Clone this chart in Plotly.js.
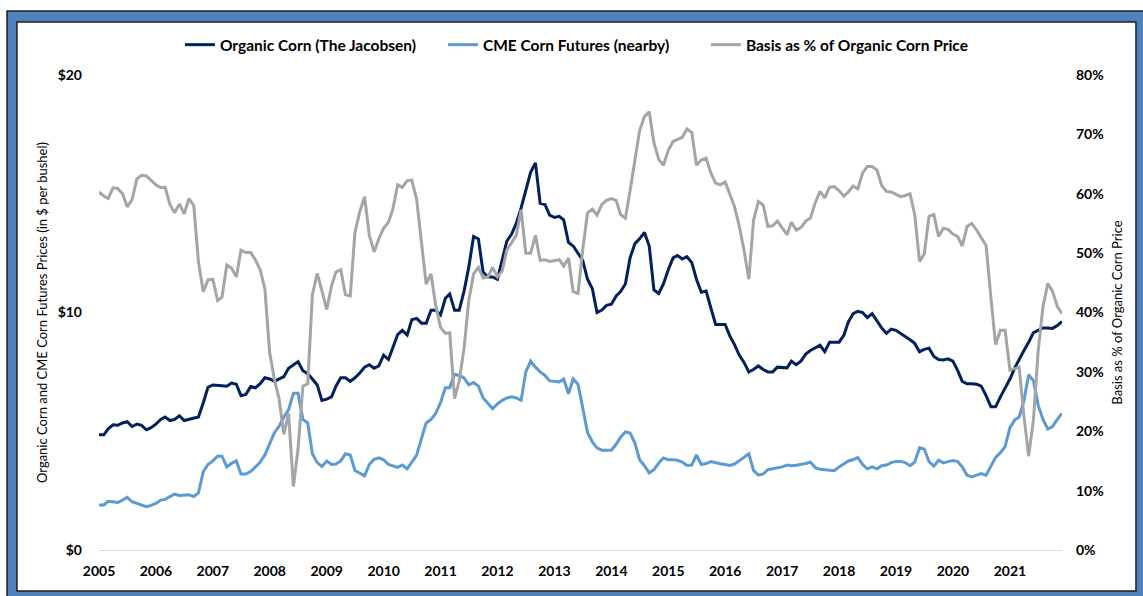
<!DOCTYPE html>
<html>
<head>
<meta charset="utf-8">
<script src="https://cdn.plot.ly/plotly-3.0.1.min.js"></script>
<style>html,body{margin:0;padding:0;background:#fff;}#chart{width:1143px;height:596px;}</style>
</head>
<body>
<div id="chart"></div>
<script>
// Monthly values, Jan 2005 - Dec 2021
const years = [2005,2006,2007,2008,2009,2010,2011,2012,2013,2014,2015,2016,2017,2018,2019,2020,2021];
const tickLabels = years.map(String);

const organicCorn = [
 4.85,4.85,5.1,5.27,5.25,5.35,5.4,5.2,5.3,5.25,5.06,5.15,
 5.3,5.5,5.6,5.45,5.5,5.65,5.45,5.5,5.55,5.6,6.2,6.85,
 6.95,6.95,6.92,6.9,7.03,6.98,6.5,6.55,6.88,6.83,7.0,7.25,
 7.2,7.1,7.2,7.3,7.65,7.78,7.93,7.55,7.42,7.2,6.95,6.3,
 6.35,6.45,6.9,7.25,7.25,7.1,7.25,7.45,7.7,7.8,7.65,7.75,
 8.2,8.02,8.5,9.07,9.25,9.05,9.7,9.75,9.55,9.55,10.1,10.1,
 9.9,10.6,10.78,10.1,10.1,10.9,11.9,13.2,13.1,11.7,11.5,11.5,
 11.4,12.2,13.0,13.3,13.75,14.4,15.1,15.9,16.3,14.6,14.55,14.1,
 14.0,14.05,13.9,12.95,12.8,12.5,12.2,11.4,11.0,10.0,10.1,10.3,
 10.35,10.7,10.88,11.2,12.3,12.9,13.1,13.37,12.8,10.95,10.8,11.2,
 11.8,12.3,12.4,12.25,12.35,12.1,11.4,10.85,10.9,10.2,9.5,9.5,
 9.5,9.0,8.65,8.2,7.9,7.5,7.6,7.75,7.6,7.5,7.5,7.7,
 7.7,7.67,7.95,7.8,7.95,8.25,8.4,8.5,8.62,8.35,8.75,8.75,
 8.75,9.05,9.6,9.95,10.05,10.0,9.78,9.95,9.65,9.35,9.12,9.3,
 9.25,9.12,8.98,8.85,8.7,8.35,8.45,8.5,8.15,8.02,8.0,8.05,
 7.95,7.55,7.1,7.0,7.0,6.98,6.9,6.5,6.03,6.03,6.45,6.8,
 7.2,7.67,8.05,8.4,8.75,9.15,9.25,9.35,9.35,9.33,9.45,9.62
];

const cmeFutures = [
 1.9,1.9,2.05,2.02,2.0,2.1,2.22,2.03,1.95,1.9,1.82,1.88,
 1.96,2.1,2.13,2.25,2.35,2.3,2.3,2.33,2.25,2.4,3.3,3.6,
 3.75,3.95,3.95,3.5,3.65,3.75,3.2,3.2,3.3,3.5,3.7,4.0,
 4.5,4.95,5.2,5.6,5.9,6.6,6.6,5.5,5.35,4.05,3.68,3.52,
 3.75,3.6,3.62,3.75,4.05,4.0,3.35,3.22,3.12,3.6,3.82,3.88,
 3.8,3.6,3.55,3.48,3.58,3.42,3.7,4.0,4.7,5.35,5.5,5.75,
 6.2,6.83,6.83,7.4,7.35,7.25,6.95,7.05,6.9,6.4,6.18,5.95,
 6.15,6.3,6.4,6.45,6.4,6.3,7.5,7.95,7.7,7.5,7.35,7.12,
 7.1,7.08,7.2,6.58,7.2,6.98,6.0,4.95,4.55,4.3,4.2,4.2,
 4.2,4.45,4.75,4.97,4.92,4.5,3.8,3.55,3.25,3.38,3.66,3.87,
 3.8,3.8,3.78,3.7,3.56,3.58,4.0,3.6,3.64,3.72,3.66,3.63,
 3.6,3.56,3.62,3.75,3.9,4.05,3.35,3.15,3.2,3.38,3.42,3.45,
 3.5,3.58,3.55,3.57,3.6,3.64,3.7,3.47,3.4,3.37,3.35,3.34,
 3.5,3.65,3.75,3.8,3.9,3.6,3.42,3.5,3.42,3.55,3.58,3.68,
 3.73,3.73,3.68,3.55,3.7,4.3,4.25,3.72,3.53,3.78,3.67,3.72,
 3.77,3.72,3.5,3.15,3.08,3.15,3.22,3.15,3.5,3.9,4.1,4.35,
 5.15,5.48,5.6,6.3,7.38,7.12,6.1,5.5,5.1,5.2,5.5,5.75
];

const basisPct = [
 60.3,59.6,59.2,61.0,60.9,60.0,57.8,59.0,62.5,63.1,63.0,62.2,
 61.5,61.0,61.1,58.2,56.8,58.3,56.6,59.2,58.0,48.5,43.5,45.5,
 45.6,42.0,42.6,48.0,47.5,46.0,50.5,50.1,50.1,48.9,47.2,44.0,
 33.2,28.6,25.5,19.5,23.0,10.7,17.0,27.6,28.0,43.0,46.6,43.7,
 40.5,44.5,46.8,47.2,43.0,42.8,53.5,57.0,59.5,53.0,50.2,52.4,
 54.2,55.2,57.4,61.5,61.1,62.2,62.3,59.0,51.5,44.8,46.5,41.2,
 37.5,36.5,36.6,25.5,28.5,34.0,42.0,46.5,47.6,45.8,46.0,47.6,
 46.0,47.0,50.5,51.8,53.0,57.3,50.0,50.0,53.0,48.8,48.9,48.6,
 48.8,48.9,47.8,49.2,43.5,43.2,50.5,56.8,57.4,56.4,58.2,58.9,
 59.2,58.9,56.5,55.9,60.5,65.8,70.6,73.0,73.8,68.6,65.8,64.8,
 67.3,68.8,69.2,69.5,70.9,70.3,64.8,65.7,66.0,63.5,61.8,61.5,
 62.0,60.0,57.8,54.5,50.5,45.6,55.5,58.7,58.1,54.5,54.6,55.4,
 54.2,53.1,55.2,53.9,54.3,55.4,55.9,58.5,60.4,59.3,61.1,61.2,
 60.5,59.6,60.3,61.3,60.8,63.5,64.6,64.6,64.0,61.4,60.4,60.3,
 59.9,59.5,59.7,60.0,56.5,48.6,49.8,56.2,56.5,52.8,54.2,54.0,
 53.2,52.8,51.2,54.5,55.0,53.9,52.6,51.3,42.5,34.6,37.0,37.0,
 30.3,30.5,30.8,22.5,15.8,22.0,33.5,41.0,44.9,43.6,41.0,39.8
];

const seriesNames = ['Organic Corn (The Jacobsen)', 'CME Corn Futures (nearby)', 'Basis as % of Organic Corn Price'];

const months = [];
years.forEach(y => { for (let m = 1; m <= 12; m++) months.push(y + '-' + (m < 10 ? '0' + m : m) + '-01'); });

const FONT = 'Lato, "Liberation Sans", Arial, sans-serif';

const traces = [
  {x: months, y: organicCorn, name: seriesNames[0], type: 'scatter', mode: 'lines',
   line: {color: '#002060', width: 3}, yaxis: 'y'},
  {x: months, y: cmeFutures, name: seriesNames[1], type: 'scatter', mode: 'lines',
   line: {color: '#5B9BD5', width: 3}, yaxis: 'y'},
  {x: months, y: basisPct, name: seriesNames[2], type: 'scatter', mode: 'lines',
   line: {color: '#A5A5A5', width: 3}, yaxis: 'y2'}
];

const layout = {
  width: 1143, height: 596,
  margin: {l: 99, r: 81, t: 75, b: 46, pad: 0},
  paper_bgcolor: '#ffffff', plot_bgcolor: 'rgba(0,0,0,0)',
  font: {family: FONT, color: '#000'},
  showlegend: true,
  legend: {orientation: 'h', x: 0.084, xanchor: 'left', y: 1.063, yanchor: 'middle',
    entrywidth: 218, entrywidthmode: 'pixels', itemgap: 30,
    font: {family: FONT, size: 15.5, color: '#000', weight: 'bold'}, bgcolor: 'rgba(0,0,0,0)'},
  xaxis: {type: 'date', range: ['2005-01-01', '2021-12-01'], tick0: '2005-01-01', dtick: 'M12',
    tickformat: '%Y', showgrid: false, zeroline: false, showline: true, linecolor: '#d9d9d9', linewidth: 1,
    ticks: '', ticklabelstandoff: 8, tickfont: {family: FONT, size: 14, color: '#000', weight: 'bold'}},
  yaxis: {range: [0, 20], dtick: 10, tickprefix: '$', showgrid: false, zeroline: false, showline: false,
    ticks: '', ticklabelstandoff: 16, tickfont: {family: FONT, size: 14, color: '#000', weight: 'bold'},
    title: {text: 'Organic Corn and CME Corn Futures Prices (in $ per bushel)', standoff: 7,
      font: {family: FONT, size: 13, color: '#000'}}},
  yaxis2: {range: [0, 80], dtick: 10, ticksuffix: '%', overlaying: 'y', side: 'right', showgrid: false,
    zeroline: false, showline: false, ticks: '', ticklabelstandoff: 13,
    tickfont: {family: FONT, size: 14, color: '#000', weight: 'bold'},
    title: {text: 'Basis as % of Organic Corn Price', standoff: 10,
      font: {family: FONT, size: 13, color: '#000'}}},
  shapes: [
    {type: 'rect', xref: 'paper', yref: 'paper', layer: 'below',
     x0: -0.0955, x1: 1.1, y0: -0.12, y1: 1.1347,
     fillcolor: '#4F81BD', line: {color: '#1f1f1f', width: 1.5}},
    {type: 'rect', xref: 'paper', yref: 'paper', layer: 'below',
     x0: -0.0852, x1: 1.0768, y0: -0.0863, y1: 1.1116,
     fillcolor: '#ffffff', line: {color: '#1f1f1f', width: 1.5}}
  ]
};

Plotly.newPlot('chart', traces, layout, {displayModeBar: false, responsive: false});
</script>
</body>
</html>
